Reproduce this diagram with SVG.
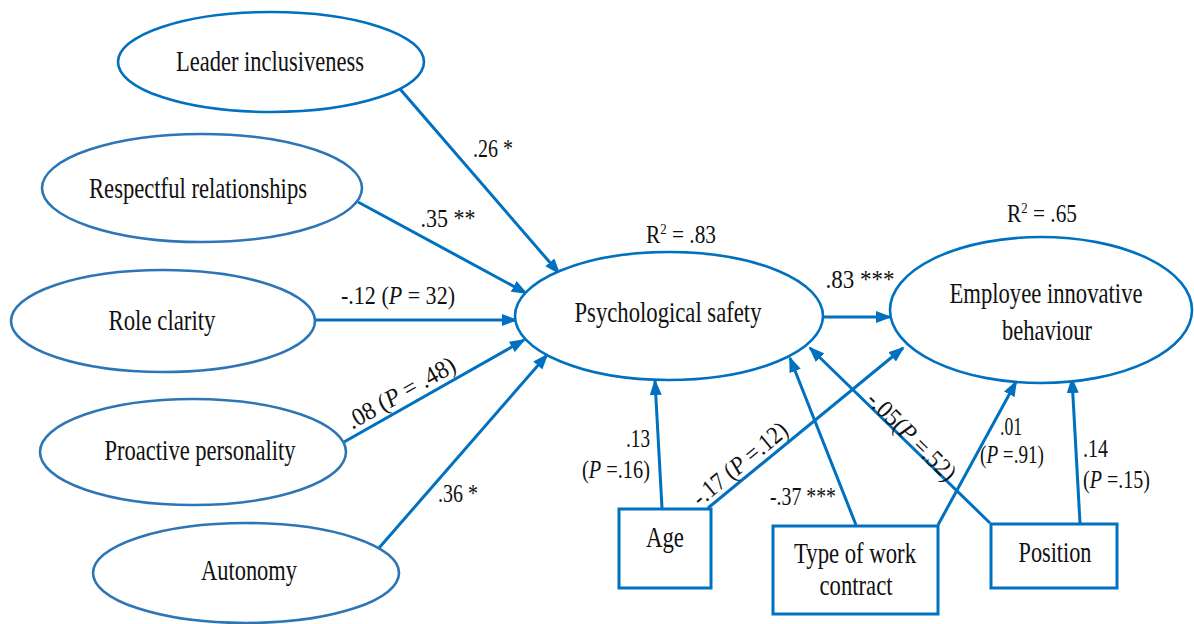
<svg xmlns="http://www.w3.org/2000/svg" width="1194" height="624" viewBox="0 0 1194 624">
<style>
text{font-family:'Liberation Serif','Times New Roman',serif;font-size:30px;fill:#111;}
text.l{font-size:25px;}
.n{text-anchor:middle;}
.e{fill:#fff;stroke:#0070C0;stroke-width:2.6;}
.e2{fill:#fff;stroke:#2E75B6;stroke-width:2.6;}
.b{fill:#fff;stroke:#0070C0;stroke-width:3;}
.c line{stroke:#0070C0;stroke-width:3;marker-end:url(#ah);}
</style>
<defs>
<marker id="ah" markerUnits="userSpaceOnUse" markerWidth="16" markerHeight="12" refX="14" refY="6" orient="auto">
<path d="M0,0 L16,6 L0,12 z" fill="#0070C0"/>
</marker>
</defs>
<rect width="1194" height="624" fill="#fff"/>
<g class="c" id="connectors">
<line x1="400" y1="89" x2="559" y2="273"/>
<line x1="358" y1="202" x2="526" y2="293"/>
<line x1="316" y1="320" x2="516" y2="320"/>
<line x1="344" y1="442" x2="524" y2="340"/>
<line x1="379" y1="548" x2="547" y2="355"/>
<line x1="823" y1="317" x2="890" y2="317"/>
<line x1="662" y1="508" x2="655" y2="381"/>
<line x1="708" y1="508" x2="903" y2="348"/>
<line x1="856" y1="525" x2="790" y2="358"/>
<line x1="938" y1="525" x2="1016" y2="382"/>
<line x1="990" y1="523" x2="810" y2="348"/>
<line x1="1080" y1="523" x2="1072" y2="379"/>
</g>
<g id="leader"><ellipse class="e" cx="271" cy="62" rx="153" ry="50"/><text class="n" x="270" y="71" textLength="188" lengthAdjust="spacingAndGlyphs">Leader inclusiveness</text></g>
<g id="respect"><ellipse class="e2" cx="202" cy="188" rx="160" ry="54"/><text class="n" x="198" y="198" textLength="218" lengthAdjust="spacingAndGlyphs">Respectful relationships</text></g>
<g id="role"><ellipse class="e2" cx="163" cy="321" rx="152" ry="51"/><text class="n" x="162" y="330" textLength="107" lengthAdjust="spacingAndGlyphs">Role clarity</text></g>
<g id="proactive"><ellipse class="e2" cx="193" cy="452" rx="153" ry="53"/><text class="n" x="200" y="460" textLength="191" lengthAdjust="spacingAndGlyphs">Proactive personality</text></g>
<g id="autonomy"><ellipse class="e2" cx="246" cy="573" rx="153" ry="50"/><text class="n" x="249" y="580" textLength="96" lengthAdjust="spacingAndGlyphs">Autonomy</text></g>
<g id="psych"><ellipse class="e" cx="669" cy="316" rx="154" ry="64"/><text class="n" x="668" y="322" textLength="187" lengthAdjust="spacingAndGlyphs">Psychological safety</text></g>
<g id="eib"><ellipse class="e" cx="1041" cy="310" rx="151" ry="73"/><text class="n" x="1046" y="303" textLength="193" lengthAdjust="spacingAndGlyphs">Employee innovative</text><text class="n" x="1047" y="340" textLength="90" lengthAdjust="spacingAndGlyphs">behaviour</text></g>
<g id="age"><rect class="b" x="619" y="509" width="92" height="79"/><text class="n" x="665" y="547" textLength="38" lengthAdjust="spacingAndGlyphs">Age</text></g>
<g id="contract"><rect class="b" x="773" y="526" width="165" height="88"/><text class="n" x="855" y="563" textLength="122" lengthAdjust="spacingAndGlyphs">Type of work</text><text class="n" x="856" y="595" textLength="73" lengthAdjust="spacingAndGlyphs">contract</text></g>
<g id="position"><rect class="b" x="991" y="524" width="126" height="64"/><text class="n" x="1055" y="562" textLength="73" lengthAdjust="spacingAndGlyphs">Position</text></g>
<g id="labels">
<text class="l n" x="681" y="243" textLength="70" lengthAdjust="spacingAndGlyphs">R<tspan dy="-9" font-size="15">2</tspan><tspan dy="9"> = .83</tspan></text>
<text class="l n" x="1042" y="222" textLength="70" lengthAdjust="spacingAndGlyphs">R<tspan dy="-9" font-size="15">2</tspan><tspan dy="9"> = .65</tspan></text>
<text class="l n" x="493" y="157" textLength="40" lengthAdjust="spacingAndGlyphs">.26 *</text>
<text class="l n" x="448" y="227" textLength="55" lengthAdjust="spacingAndGlyphs">.35 **</text>
<text class="l n" x="398" y="304" textLength="114" lengthAdjust="spacingAndGlyphs">-.12 (<tspan font-style="italic">P</tspan> = 32)</text>
<text class="l n" transform="translate(405,400) rotate(-29.5)" textLength="121" lengthAdjust="spacingAndGlyphs">.08 (<tspan font-style="italic">P</tspan> = .48)</text>
<text class="l n" x="458" y="502" textLength="40" lengthAdjust="spacingAndGlyphs">.36 *</text>
<text class="l n" x="860" y="288" textLength="69" lengthAdjust="spacingAndGlyphs">.83 ***</text>
<text class="l" x="650" y="447" text-anchor="end" textLength="24" lengthAdjust="spacingAndGlyphs">.13</text>
<text class="l" x="650" y="478" text-anchor="end" textLength="68" lengthAdjust="spacingAndGlyphs">(<tspan font-style="italic">P</tspan> =.16)</text>
<text class="l n" transform="translate(745,470) rotate(-39.5)" textLength="116" lengthAdjust="spacingAndGlyphs">-.17 (<tspan font-style="italic">P</tspan> =.12)</text>
<text class="l n" x="803" y="505" textLength="66" lengthAdjust="spacingAndGlyphs">-.37 ***</text>
<text class="l n" transform="translate(906,442) rotate(45)" textLength="115" lengthAdjust="spacingAndGlyphs">-.05(<tspan font-style="italic">P</tspan> =.52)</text>
<text class="l n" x="1011" y="435" textLength="22" lengthAdjust="spacingAndGlyphs">.01</text>
<text class="l n" x="1012" y="463" textLength="64" lengthAdjust="spacingAndGlyphs">(<tspan font-style="italic">P</tspan> =.91)</text>
<text class="l" x="1083" y="457" textLength="25" lengthAdjust="spacingAndGlyphs">.14</text>
<text class="l" x="1083" y="488" textLength="67" lengthAdjust="spacingAndGlyphs">(<tspan font-style="italic">P</tspan> =.15)</text>
</g>
</svg>
